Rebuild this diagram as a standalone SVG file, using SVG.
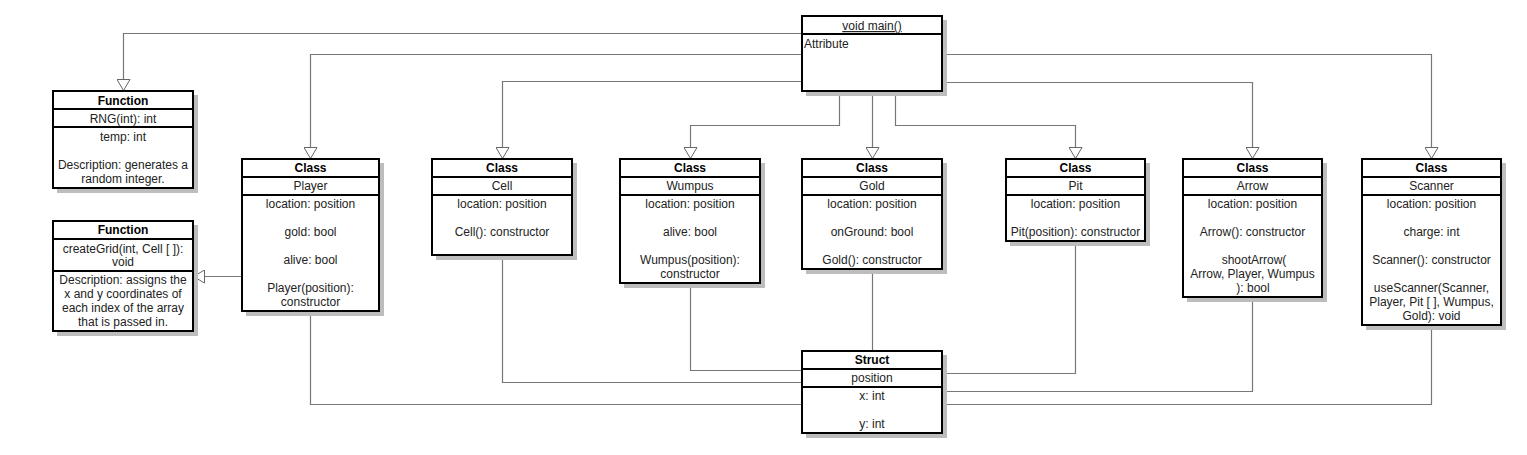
<svg xmlns="http://www.w3.org/2000/svg" width="1527" height="455" viewBox="0 0 1527 455">
<style>
.sh{fill:#bdbdbd}
.bx{fill:#fff;stroke:#000;stroke-width:2}
.dv{stroke:#000;stroke-width:2}
.t{font-family:"Liberation Sans",Arial,sans-serif;font-size:12px;fill:#222;text-anchor:middle}
.h{font-weight:bold;fill:#000}
.c{fill:none;stroke:#777;stroke-width:1.2}
</style>
<defs>
<marker id="tri" viewBox="0 0 12 14" refX="12" refY="7" markerWidth="12" markerHeight="14" markerUnits="userSpaceOnUse" orient="auto">
<path d="M0.5,0.5 L11.5,7 L0.5,13.5 Z" fill="#fff" stroke="#666" stroke-width="1"/>
</marker>
</defs>
<rect width="1527" height="455" fill="#fff"/>
<g id="connectors">
<path class="c" d="M802,33.5 H123.5 V91" marker-end="url(#tri)"/>
<path class="c" d="M802,54.5 H310.5 V159" marker-end="url(#tri)"/>
<path class="c" d="M942,54.5 H1431.5 V159" marker-end="url(#tri)"/>
<path class="c" d="M802,81.5 H502.5 V159" marker-end="url(#tri)"/>
<path class="c" d="M942,82.5 H1252.5 V159" marker-end="url(#tri)"/>
<path class="c" d="M839.5,91 V125.5 H690.5 V159" marker-end="url(#tri)"/>
<path class="c" d="M872.5,91 V159" marker-end="url(#tri)"/>
<path class="c" d="M895.5,91 V125.5 H1075.5 V159" marker-end="url(#tri)"/>
<path class="c" d="M242,276.5 H193" marker-end="url(#tri)"/>
<path class="c" d="M872.5,269 V351"/>
<path class="c" d="M690.5,283 V370.5 H802"/>
<path class="c" d="M502.5,255 V382.5 H802"/>
<path class="c" d="M310.5,311 V404.5 H802"/>
<path class="c" d="M942,373.5 H1075.5 V241"/>
<path class="c" d="M942,391.5 H1252.5 V297"/>
<path class="c" d="M942,404.5 H1431.5 V325"/>
</g>
<g id="main">
<rect class="sh" x="806" y="20" width="141" height="76"/>
<rect class="bx" x="802" y="16" width="140" height="75"/>
<line class="dv" x1="802" y1="34" x2="942" y2="34"/>
<text class="t" x="872" y="30" text-decoration="underline">void main()</text>
<text class="t" x="804" y="48" style="text-anchor:start">Attribute</text>
</g>
<g id="fn-rng">
<rect class="sh" x="57" y="95" width="141" height="98"/>
<rect class="bx" x="53" y="91" width="140" height="97"/>
<line class="dv" x1="53" y1="109" x2="193" y2="109"/>
<line class="dv" x1="53" y1="127" x2="193" y2="127"/>
<text class="t h" x="123" y="104.5">Function</text>
<text class="t" x="123" y="122.5">RNG(int): int</text>
<text class="t" x="123" y="141">temp: int</text>
<text class="t" x="123" y="168.5">Description: generates a</text>
<text class="t" x="123" y="183">random integer.</text>
</g>
<g id="fn-creategrid">
<rect class="sh" x="57" y="225" width="141" height="111"/>
<rect class="bx" x="53" y="221" width="140" height="110"/>
<line class="dv" x1="53" y1="239" x2="193" y2="239"/>
<line class="dv" x1="53" y1="271" x2="193" y2="271"/>
<text class="t h" x="123" y="233.5">Function</text>
<text class="t" x="123" y="252.5">createGrid(int, Cell [ ]):</text>
<text class="t" x="123" y="266">void</text>
<text class="t" x="123" y="284">Description: assigns the</text>
<text class="t" x="123" y="298">x and y coordinates of</text>
<text class="t" x="123" y="312">each index of the array</text>
<text class="t" x="123" y="326">that is passed in.</text>
</g>
<g id="player">
<rect class="sh" x="246" y="163" width="138" height="153"/>
<rect class="bx" x="242" y="159" width="137" height="152"/>
<line class="dv" x1="242" y1="177" x2="379" y2="177"/>
<line class="dv" x1="242" y1="195" x2="379" y2="195"/>
<text class="t h" x="310.5" y="171.5">Class</text>
<text class="t" x="310.5" y="190">Player</text>
<text class="t" x="310.5" y="208">location: position</text>
<text class="t" x="310.5" y="236">gold: bool</text>
<text class="t" x="310.5" y="264">alive: bool</text>
<text class="t" x="310.5" y="292">Player(position):</text>
<text class="t" x="310.5" y="306">constructor</text>
</g>
<g id="cell">
<rect class="sh" x="436" y="163" width="141" height="97"/>
<rect class="bx" x="432" y="159" width="140" height="96"/>
<line class="dv" x1="432" y1="177" x2="572" y2="177"/>
<line class="dv" x1="432" y1="195" x2="572" y2="195"/>
<text class="t h" x="502" y="171.5">Class</text>
<text class="t" x="502" y="190">Cell</text>
<text class="t" x="502" y="208">location: position</text>
<text class="t" x="502" y="236">Cell(): constructor</text>
</g>
<g id="wumpus">
<rect class="sh" x="624" y="163" width="141" height="125"/>
<rect class="bx" x="620" y="159" width="140" height="124"/>
<line class="dv" x1="620" y1="177" x2="760" y2="177"/>
<line class="dv" x1="620" y1="195" x2="760" y2="195"/>
<text class="t h" x="690" y="171.5">Class</text>
<text class="t" x="690" y="190">Wumpus</text>
<text class="t" x="690" y="208">location: position</text>
<text class="t" x="690" y="236">alive: bool</text>
<text class="t" x="690" y="264">Wumpus(position):</text>
<text class="t" x="690" y="278">constructor</text>
</g>
<g id="gold">
<rect class="sh" x="806" y="163" width="141" height="111"/>
<rect class="bx" x="802" y="159" width="140" height="110"/>
<line class="dv" x1="802" y1="177" x2="942" y2="177"/>
<line class="dv" x1="802" y1="195" x2="942" y2="195"/>
<text class="t h" x="872" y="171.5">Class</text>
<text class="t" x="872" y="190">Gold</text>
<text class="t" x="872" y="208">location: position</text>
<text class="t" x="872" y="236">onGround: bool</text>
<text class="t" x="872" y="264">Gold(): constructor</text>
</g>
<g id="pit">
<rect class="sh" x="1010" y="163" width="140" height="83"/>
<rect class="bx" x="1006" y="159" width="139" height="82"/>
<line class="dv" x1="1006" y1="177" x2="1145" y2="177"/>
<line class="dv" x1="1006" y1="195" x2="1145" y2="195"/>
<text class="t h" x="1075.5" y="171.5">Class</text>
<text class="t" x="1075.5" y="190">Pit</text>
<text class="t" x="1075.5" y="208">location: position</text>
<text class="t" x="1075.5" y="236">Pit(position): constructor</text>
</g>
<g id="arrow">
<rect class="sh" x="1187" y="163" width="140" height="139"/>
<rect class="bx" x="1183" y="159" width="139" height="138"/>
<line class="dv" x1="1183" y1="177" x2="1322" y2="177"/>
<line class="dv" x1="1183" y1="195" x2="1322" y2="195"/>
<text class="t h" x="1252.5" y="171.5">Class</text>
<text class="t" x="1252.5" y="190">Arrow</text>
<text class="t" x="1252.5" y="208">location: position</text>
<text class="t" x="1252.5" y="236">Arrow(): constructor</text>
<text class="t" x="1254" y="264">shootArrow(</text>
<text class="t" x="1252.5" y="278">Arrow, Player, Wumpus</text>
<text class="t" x="1253" y="292">): bool</text>
</g>
<g id="scanner">
<rect class="sh" x="1366" y="163" width="140" height="167"/>
<rect class="bx" x="1362" y="159" width="139" height="166"/>
<line class="dv" x1="1362" y1="177" x2="1501" y2="177"/>
<line class="dv" x1="1362" y1="195" x2="1501" y2="195"/>
<text class="t h" x="1431.5" y="171.5">Class</text>
<text class="t" x="1431.5" y="190">Scanner</text>
<text class="t" x="1431.5" y="208">location: position</text>
<text class="t" x="1431.5" y="236">charge: int</text>
<text class="t" x="1431.5" y="264">Scanner(): constructor</text>
<text class="t" x="1431.5" y="292">useScanner(Scanner,</text>
<text class="t" x="1431.5" y="306">Player, Pit [ ], Wumpus,</text>
<text class="t" x="1431.5" y="320">Gold): void</text>
</g>
<g id="struct-position">
<rect class="sh" x="806" y="355" width="141" height="83"/>
<rect class="bx" x="802" y="351" width="140" height="82"/>
<line class="dv" x1="802" y1="369" x2="942" y2="369"/>
<line class="dv" x1="802" y1="387" x2="942" y2="387"/>
<text class="t h" x="872" y="363.5">Struct</text>
<text class="t" x="872" y="382">position</text>
<text class="t" x="872" y="400">x: int</text>
<text class="t" x="872" y="428">y: int</text>
</g>
</svg>
